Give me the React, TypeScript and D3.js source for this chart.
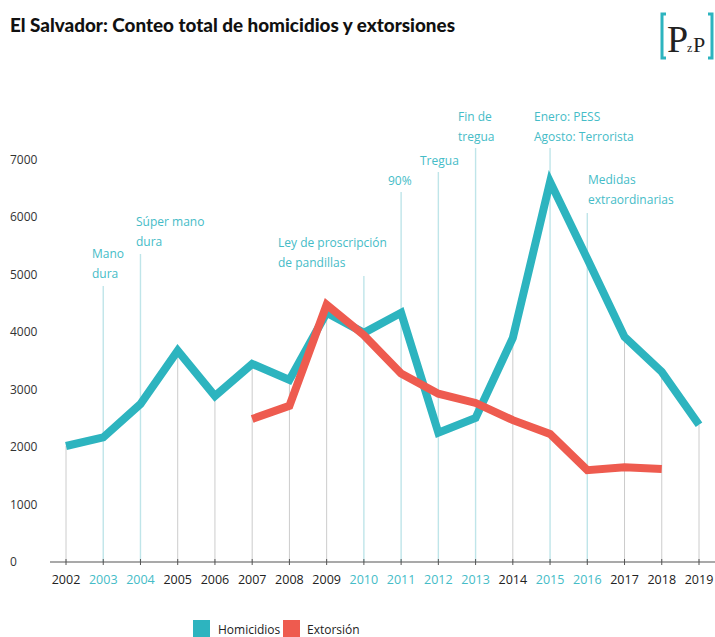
import * as d3 from "d3";

// datos
const years = d3.range(2002, 2020);
const homicidios = [2020, 2170, 2750, 3680, 2890, 3450, 3170, 4340, 3990, 4340, 2250, 2510, 3900, 6620, 5280, 3920, 3310, 2390];
const extorsionYears = [2007, 2008, 2009, 2010, 2011, 2012, 2013, 2014, 2015, 2016, 2017, 2018];
const extorsion = [2490, 2720, 4480, 3950, 3280, 2930, 2770, 2470, 2230, 1600, 1650, 1620];
const yTicks = [0, 1000, 2000, 3000, 4000, 5000, 6000, 7000];

const eventYears = [2003, 2004, 2010, 2011, 2012, 2013, 2015, 2016];
const eventLabels = [
  ["Mano", "dura"],
  ["Súper mano", "dura"],
  ["Ley de proscripción", "de pandillas"],
  ["90%"],
  ["Tregua"],
  ["Fin de", "tregua"],
  ["Enero: PESS", "Agosto: Terrorista"],
  ["Medidas", "extraordinarias"],
];

// posición de cada etiqueta (x, y de la primera línea, y tope de la guía)
const eventLayout = [
  { x: 92, y: 258, top: 286 },
  { x: 136, y: 226, top: 254 },
  { x: 278, y: 247, top: 276 },
  { x: 388, y: 185, top: 192 },
  { x: 420, y: 165, top: 172 },
  { x: 458, y: 121, top: 148 },
  { x: 534, y: 121, top: 148 },
  { x: 588, y: 184, top: 213 },
];

const TEAL = "#2db4bf";
const RED = "#ee5b4f";
const LABEL_TEAL = "#45bcc7";
const FONT = "'Open Sans', 'Noto Sans', sans-serif";

export default function App() {
  const w = 715;
  const h = 637;
  const x = d3.scaleLinear().domain([2002, 2019]).range([66, 699]);
  const y = d3.scaleLinear().domain([0, 7000]).range([562, 160]);

  const homLine = d3
    .line<number>()
    .x((d, i) => x(years[i]))
    .y((d) => y(d));
  const extLine = d3
    .line<number>()
    .x((d, i) => x(extorsionYears[i]))
    .y((d) => y(d));

  return (
    <svg
      width={w}
      height={h}
      style={{ position: "absolute", left: 0, top: 0, background: "#fff" }}
      fontFamily={FONT}
    >
      {/* título */}
      <text x={10} y={32} fontFamily="Lato, sans-serif" fontWeight={900} fontSize={18.5} fill="#111" textLength={445} lengthAdjust="spacingAndGlyphs">
        El Salvador: Conteo total de homicidios y extorsiones
      </text>

      {/* logo */}
      <g>
        <path d="M666,14 h-4 v44 h4" fill="none" stroke={TEAL} strokeWidth={3} />
        <path d="M708,14 h4 v44 h-4" fill="none" stroke={TEAL} strokeWidth={3} />
        <text x={667} y={52} fontFamily="'Liberation Serif', serif" fontSize={38} fill="#222">P</text>
        <text x={687} y={52} fontFamily="'Liberation Serif', serif" fontSize={12} fill="#222">z</text>
        <text x={693} y={52} fontFamily="'Liberation Serif', serif" fontSize={22} fill="#222">P</text>
      </g>

      {/* eje y */}
      {yTicks.map((t) => (
        <text key={t} x={10} y={y(t) + 4} fontSize={12} fill="#333">
          {t}
        </text>
      ))}

      {/* guías grises en años sin evento */}
      {years.map((yr, i) =>
        eventYears.includes(yr) ? null : (
          <line key={yr} x1={x(yr)} x2={x(yr)} y1={y(homicidios[i])} y2={y(0)} stroke="#cccccc" strokeWidth={1} />
        )
      )}

      {/* guías y etiquetas de eventos */}
      {eventYears.map((yr, i) => (
        <g key={yr}>
          <line x1={x(yr)} x2={x(yr)} y1={eventLayout[i].top} y2={y(0)} stroke="#bfe5e9" strokeWidth={1.4} />
          <text x={eventLayout[i].x} y={eventLayout[i].y} fontSize={12} fill={LABEL_TEAL}>
            {eventLabels[i].map((s, j) => (
              <tspan key={j} x={eventLayout[i].x} dy={j === 0 ? 0 : 19.5}>
                {s}
              </tspan>
            ))}
          </text>
        </g>
      ))}

      {/* eje x */}
      <line x1={50} x2={715} y1={y(0)} y2={y(0)} stroke="#555" strokeWidth={1.2} />
      {years.map((yr) => (
        <g key={yr}>
          <line x1={x(yr)} x2={x(yr)} y1={y(0) - 3} y2={y(0) + 3} stroke="#555" strokeWidth={1} />
          <text x={x(yr)} y={584} fontSize={12.5} textAnchor="middle" fill={eventYears.includes(yr) ? LABEL_TEAL : "#222"}>
            {yr}
          </text>
        </g>
      ))}

      {/* series */}
      <path d={homLine(homicidios) ?? ""} fill="none" stroke={TEAL} strokeWidth={8} strokeLinejoin="miter" />
      <path d={extLine(extorsion) ?? ""} fill="none" stroke={RED} strokeWidth={8} strokeLinejoin="miter" />

      {/* leyenda */}
      <rect x={193} y={620} width={17} height={17} fill={TEAL} />
      <text x={218} y={634} fontSize={12} fill="#222">Homicidios</text>
      <rect x={283} y={620} width={17} height={17} fill={RED} />
      <text x={307} y={634} fontSize={12} fill="#222">Extorsión</text>
    </svg>
  );
}
